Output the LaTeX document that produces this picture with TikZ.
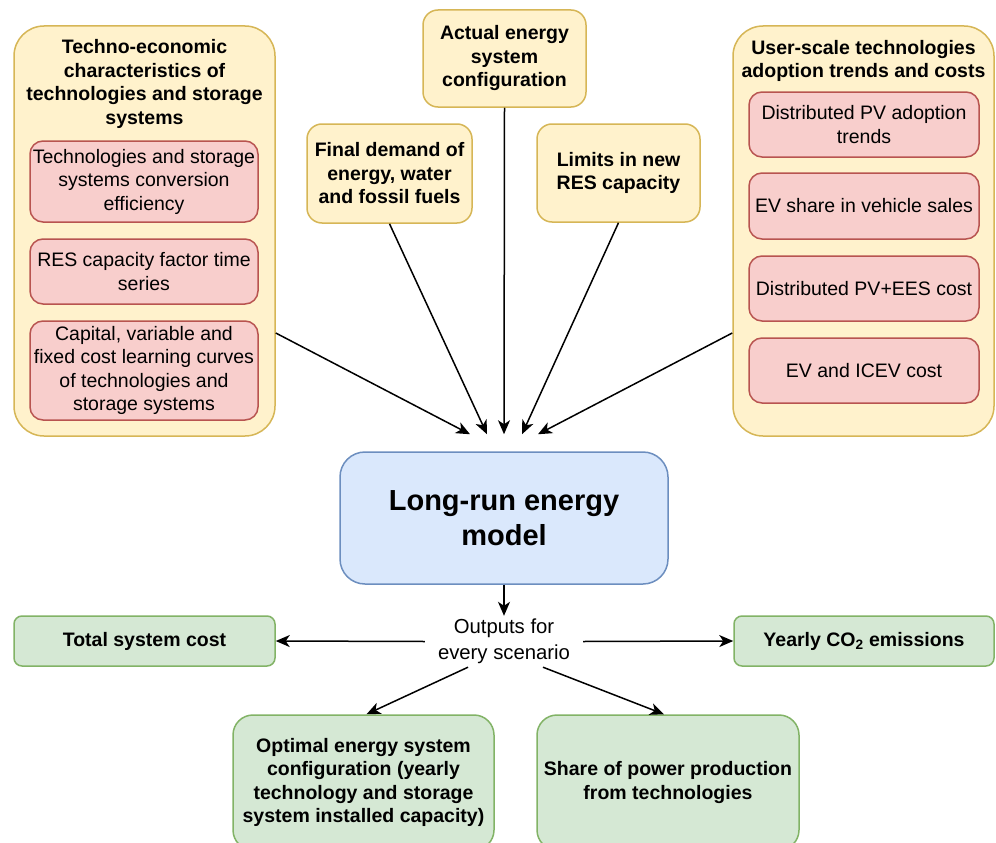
\documentclass[tikz,border=0pt]{standalone}
\usepackage{fontspec}
\setmainfont{Liberation Sans}
\usetikzlibrary{arrows.meta}

\definecolor{ylwfill}{HTML}{FFF2CC}
\definecolor{ylwline}{HTML}{D6B656}
\definecolor{redfill}{HTML}{F8CECC}
\definecolor{redline}{HTML}{B85450}
\definecolor{bluefill}{HTML}{DAE8FC}
\definecolor{blueline}{HTML}{6C8EBF}
\definecolor{grnfill}{HTML}{D5E8D4}
\definecolor{grnline}{HTML}{82B366}

\newcommand{\bodyfont}{\fontsize{19.5}{23.5}\selectfont}

\tikzset{
  shape base/.style={align=center, inner sep=0pt, line width=1.5pt},
  group/.style={shape base, draw=ylwline, fill=ylwfill, rounded corners=30pt},
  grouptitle/.style={align=center, inner sep=0pt, font=\bodyfont\bfseries},
  inbox/.style={shape base, draw=redline, fill=redfill, rounded corners=13pt, font=\bodyfont},
  topbox/.style={shape base, draw=ylwline, fill=ylwfill, rounded corners=15pt, font=\bodyfont\bfseries},
  model/.style={shape base, draw=blueline, fill=bluefill, rounded corners=25pt,
                font=\fontsize{29}{35}\selectfont\bfseries},
  outbox/.style={shape base, draw=grnline, fill=grnfill, rounded corners=8pt, font=\bodyfont\bfseries},
  resbox/.style={shape base, draw=grnline, fill=grnfill, rounded corners=20pt, font=\bodyfont\bfseries},
  flow/.style={-{Stealth[length=14pt,width=12pt,inset=4pt]}, line width=1.5pt, black},
}

\begin{document}
\begin{tikzpicture}[x=1pt,y=-1pt]
  \path[use as bounding box, clip] (0,0) rectangle (996,843);
  \fill[white] (0,0) rectangle (996,843);

  % left group: techno-economic inputs
  \node[group, minimum width=261pt, minimum height=410pt] (L) at (144.5,231) {};
  \node[grouptitle] (Lt) at (144.5,84)
    {Techno-economic\\characteristics of\\technologies and storage\\systems};
  \node[inbox, minimum width=228pt, minimum height=81pt] (L1) at (144,181.5)
    {Technologies and storage\\systems conversion\\efficiency};
  \node[inbox, minimum width=228pt, minimum height=65pt] (L2) at (144,271.5)
    {RES capacity factor time\\series};
  \node[inbox, minimum width=228pt, minimum height=99pt] (L3) at (144,370.5)
    {Capital, variable and\\fixed cost learning curves\\of technologies and\\storage systems};

  % top inputs
  \node[topbox, minimum width=163pt, minimum height=97pt] (A) at (504.5,58.5)
    {Actual energy\\system\\configuration};
  \node[topbox, minimum width=165pt, minimum height=99pt] (F) at (389.5,173.5)
    {Final demand of\\energy, water\\and fossil fuels};
  \node[topbox, minimum width=163pt, minimum height=98pt] (R) at (618.5,173)
    {Limits in new\\RES capacity};

  % right group: user-scale technologies
  \node[group, minimum width=261pt, minimum height=410pt] (U) at (863.5,231) {};
  \node[grouptitle] (Ut) at (863.5,61)
    {User-scale technologies\\adoption trends and costs};
  \node[inbox, minimum width=230pt, minimum height=65pt] (U1) at (864,124.5)
    {Distributed PV adoption\\trends};
  \node[inbox, minimum width=230pt, minimum height=66pt] (U2) at (864,206)
    {EV share in vehicle sales};
  \node[inbox, minimum width=230pt, minimum height=65pt] (U3) at (864,288.5)
    {Distributed PV+EES cost};
  \node[inbox, minimum width=230pt, minimum height=65pt] (U4) at (864,370.5)
    {EV and ICEV cost};

  % model
  \node[model, minimum width=328pt, minimum height=132pt] (M) at (504,518)
    {Long-run energy\\model};

  % outputs
  \node[align=center, inner xsep=13pt, inner ysep=0pt, minimum height=51pt,
        font=\fontsize{20.3}{26.5}\selectfont] (O) at (504,641.5)
    {Outputs for\\every scenario};
  \node[outbox, minimum width=261pt, minimum height=50pt] (T) at (144.5,641)
    {Total system cost};
  \node[outbox, minimum width=260pt, minimum height=50pt] (C) at (864,641)
    {Yearly CO\textsubscript{2} emissions};
  \node[resbox, minimum width=261pt, minimum height=135pt] (P) at (363.5,782.5)
    {Optimal energy system\\configuration (yearly\\technology and storage\\system installed capacity)};
  \node[resbox, minimum width=262pt, minimum height=135pt] (S) at (668,782.5)
    {Share of power production\\from technologies};

  % inputs into the model
  \draw[flow] ([yshift=-102pt]L.east) -- ([xshift=-34pt,yshift=17pt]M.north);
  \draw[flow] (F.south) -- ([xshift=-17pt,yshift=17pt]M.north);
  \draw[flow] (A.south) -- ([yshift=17pt]M.north);
  \draw[flow] (R.south) -- ([xshift=18pt,yshift=17pt]M.north);
  \draw[flow] ([yshift=-102pt]U.west) -- ([xshift=34pt,yshift=17pt]M.north);

  % model outputs
  \draw[flow] (M.south) -- (O.north);
  \draw[flow] (O.west) -- (T.east);
  \draw[flow] (O.east) -- (C.west);
  \draw[flow] ([xshift=-36pt]O.south) -- ([xshift=3pt]P.north);
  \draw[flow] ([xshift=39pt]O.south) -- ([xshift=-4pt]S.north);
\end{tikzpicture}
\end{document}
